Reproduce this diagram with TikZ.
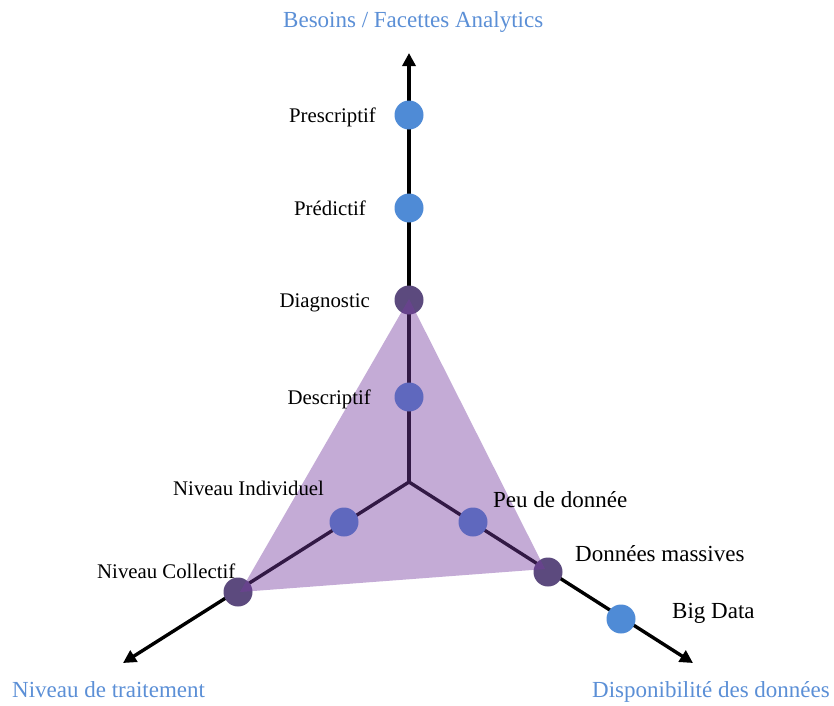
\documentclass[tikz,border=0pt]{standalone}
\usepackage{fontspec}
\setmainfont{Liberation Serif}
\usetikzlibrary{arrows.meta}
\definecolor{dotblue}{RGB}{79,139,214}
\definecolor{titleblue}{RGB}{91,143,214}
\definecolor{vertexpurple}{RGB}{92,74,126}
\definecolor{trifill}{RGB}{118,60,160}
\begin{document}
\begin{tikzpicture}[x=1pt,y=-1pt,
 axis/.style={line width=3.4pt,-{Triangle[length=13pt,width=13pt]}},
 dot/.style={circle,fill=dotblue,minimum size=29pt,inner sep=0pt},
 vdot/.style={dot,fill=vertexpurple},
 lbl/.style={inner sep=0pt,font=\fontsize{20.8}{25}\selectfont},
 rlbl/.style={inner sep=0pt,font=\fontsize{23}{27}\selectfont},
 ttl/.style={inner sep=0pt,text=titleblue,font=\fontsize{23}{27}\selectfont}]
\useasboundingbox (0,0) rectangle (834,705);
\coordinate (O) at (409,482);
\coordinate (tipU) at (409,53);
\coordinate (tipL) at (123,663);
\coordinate (tipR) at (693,663);
\draw[axis] (O) -- (tipU);
\draw[axis] (O) -- (tipL);
\draw[axis] (O) -- (tipR);
% points
\node[dot]  (pres)  at (409,115) {};
\node[dot]  (pred)  at (409,208) {};
\node[vdot] (diag)  at (409,300) {};
\node[dot]  (desc)  at (409,397) {};
\node[dot]  (indiv) at (344,522) {};
\node[vdot] (coll)  at (238,592) {};
\node[dot]  (peu)   at (473,522) {};
\node[vdot] (mass)  at (548,572) {};
\node[dot]  (big)   at (621,619) {};
% triangle
\fill[trifill,opacity=0.43] ([yshift=1pt]diag.center) -- ([xshift=2pt]coll.center) -- ([xshift=-3pt,yshift=3pt]mass.center) -- cycle;
% labels
\node[lbl,anchor=base east] (lpres)  at (376,122) {Prescriptif};
\node[lbl,anchor=base east] (lpred)  at (366,215) {Prédictif};
\node[lbl,anchor=base east] (ldiag)  at (370,307) {Diagnostic};
\node[lbl,anchor=base east] (ldesc)  at (371,404) {Descriptif};
\node[lbl,anchor=base west] (lindiv) at (173,495) {Niveau Individuel};
\node[lbl,anchor=base west] (lcoll)  at (97,578) {Niveau Collectif};
\node[rlbl,anchor=base west] (lpeu)  at (493,507) {Peu de donnée};
\node[rlbl,anchor=base west] (lmass) at (575,561) {Données massives};
\node[rlbl,anchor=base west] (lbig)  at (672,618) {Big Data};
% axis titles
\node[ttl,anchor=base west] (tU) at (283,27) {Besoins / Facettes Analytics};
\node[ttl,anchor=base west] (tL) at (12,697) {Niveau de traitement};
\node[ttl,anchor=base west] (tR) at (592,697) {Disponibilité des données};
\end{tikzpicture}
\end{document}
